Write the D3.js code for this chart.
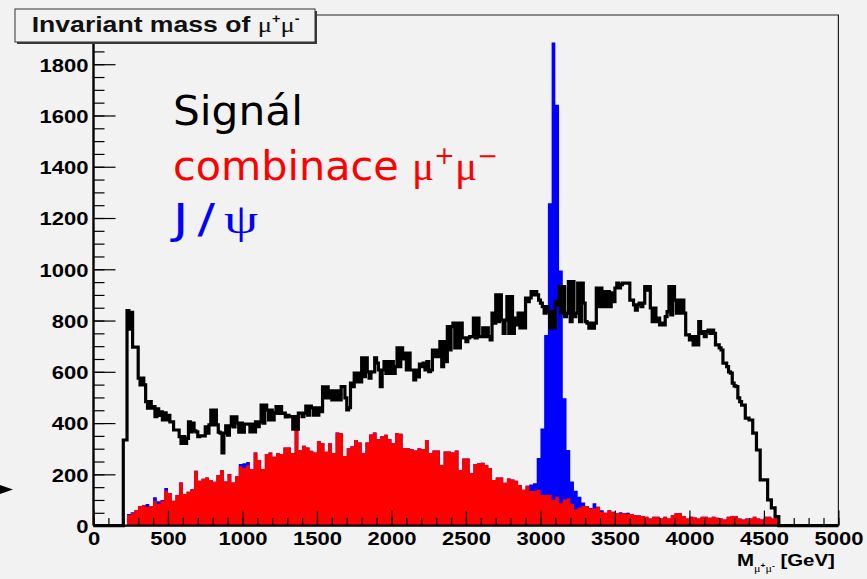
<!DOCTYPE html>
<html>
<head>
<meta charset="utf-8">
<script src="https://cdn.jsdelivr.net/npm/d3@7"></script>
<style>
  html, body { margin: 0; padding: 0; background: #f2f2f2; }
  svg { display: block; }
</style>
</head>
<body>
<svg id="chart" width="867" height="579"></svg>
<script>
// Invariant mass of mu+ mu- pairs: total signal (12.5 GeV bins),
// combinatorial background and J/psi contribution (25 GeV bins).
const massRange = [0, 5000];
const binWidth = 25;
const fineBinWidth = 12.5;

// combinatorial mu+ mu- background, counts per 25 GeV bin
const combinatorial = [
  0, 0, 0, 0, 0, 0, 0, 0, 0, 41, 48, 61, 76, 80, 73, 76, 97, 84, 97, 136,
  127, 97, 119, 168, 123, 132, 142, 214, 175, 183, 188, 178, 171, 197, 217, 172, 201, 168, 193, 232,
  224, 235, 220, 285, 256, 220, 279, 285, 269, 283, 279, 305, 305, 283, 380, 295, 312, 305, 292, 285,
  330, 321, 288, 321, 283, 363, 360, 272, 302, 310, 334, 324, 282, 324, 355, 363, 337, 350, 354, 337,
  321, 361, 358, 302, 302, 298, 293, 302, 298, 334, 282, 293, 293, 236, 289, 289, 285, 293, 217, 262,
  262, 204, 240, 243, 245, 236, 224, 178, 188, 188, 167, 184, 180, 175, 158, 140, 155, 135, 135, 140,
  119, 119, 119, 100, 113, 87, 102, 106, 84, 63, 71, 76, 76, 67, 67, 74, 54, 50, 60, 54,
  48, 48, 48, 45, 45, 41, 37, 37, 35, 28, 35, 35, 28, 35, 28, 41, 48, 48, 37, 28,
  35, 32, 28, 35, 35, 31, 35, 31, 28, 24, 35, 37, 37, 28, 24, 28, 28, 35, 28, 24,
  35, 35, 28, 32, 0, 0, 0, 0, 0, 0, 0, 0, 0, 0, 0, 0, 0, 0, 0, 0
];

// J/psi contribution, stacked on top of the combinatorial background
const jpsi = [
  0, 0, 0, 0, 0, 0, 0, 0, 0, 4, 4, 0, 0, 0, 11, 0, 14, 11, 3, 11,
  0, 0, 0, 0, 0, 0, 0, 0, 0, 0, 0, 0, 0, 0, 0, 0, 0, 0, 0, 8,
  19, 13, 0, 0, 0, 0, 0, 0, 0, 0, 0, 0, 0, 0, 0, 0, 0, 0, 0, 0,
  0, 0, 0, 0, 0, 0, 0, 0, 0, 0, 0, 0, 0, 0, 0, 0, 0, 0, 0, 0,
  0, 0, 0, 0, 0, 0, 0, 0, 0, 0, 0, 0, 0, 0, 0, 0, 0, 0, 0, 0,
  0, 0, 0, 0, 0, 0, 0, 0, 0, 0, 0, 0, 0, 0, 0, 0, 0, 25, 30, 124,
  260, 625, 1139, 1785, 1529, 908, 395, 189, 88, 73, 42, 14, 0, 2, 20, 0, 6, 0, 0, 0,
  0, 4, 0, 5, 0, 0, 3, 0, 0, 0, 0, 0, 0, 0, 0, 0, 0, 0, 0, 0,
  0, 0, 0, 0, 0, 0, 0, 0, 0, 0, 0, 0, 0, 0, 0, 0, 0, 0, 0, 0,
  0, 0, 0, 0, 0, 0, 0, 0, 0, 0, 0, 0, 0, 0, 0, 0, 0, 0, 0, 0
];

// total signal, counts per 12.5 GeV bin (400 bins)
const signal = [
  0, 0, 0, 0, 0, 0, 0, 0, 0, 0, 0, 0, 0, 0, 0, 0,
  334, 334, 839,
  766, 832, 696, 696, 696, 575, 549, 575, 549, 484, 458, 484, 458, 464, 425, 455, 430, 444, 412, 440,
  412, 430, 405, 405, 373, 373, 373, 347, 321, 347, 321, 340, 405, 366, 400, 370, 366, 347, 350, 350,
  350, 385, 361, 393, 451, 393, 451, 393, 365, 361, 284, 361, 389, 353, 389, 424, 385, 424, 400, 365,
  400, 365, 396, 396, 396, 366, 396, 366, 405, 386, 405, 470, 400, 470, 451, 412, 451, 412, 440, 464,
  438, 464, 438, 439, 424, 430, 425, 425, 376, 425, 376, 439, 439, 425, 439, 466, 431, 466, 459, 431,
  459, 431, 459, 445, 541, 498, 541, 498, 526, 490, 526, 490, 526, 490, 542, 542, 498, 451, 460, 556,
  542, 595, 561, 595, 561, 654, 581, 654, 600, 575, 600, 600, 654, 634, 607, 542, 607, 640, 594, 640,
  594, 640, 594, 620, 693, 620, 693, 650, 673, 607, 673, 607, 607, 568, 607, 580, 630, 620, 634, 607,
  640, 601, 607, 685, 659, 685, 659, 718, 620, 718, 640, 776, 685, 776, 790, 693, 790, 693, 790, 732,
  732, 718, 732, 737, 737, 810, 732, 810, 737, 737, 771, 737, 771, 737, 724, 829, 790, 900, 796, 900,
  802, 750, 802, 893, 750, 893, 750, 810, 783, 829, 771, 829, 771, 888, 874, 888, 913, 900, 913, 900,
  880, 868, 854, 829, 854, 835, 771, 835, 771, 874, 861, 932, 829, 932, 815, 829, 952, 796, 952, 815,
  829, 946, 796, 946, 868, 796, 790, 770, 790, 770, 790, 927, 854, 927, 854, 913, 854, 913, 854, 908,
  874, 927, 946, 927, 940, 946, 946, 946, 946, 880, 880, 861, 841, 861, 868, 854, 868, 932, 919, 932,
  849, 796, 849, 796, 810, 783, 790, 783, 815, 835, 932, 822, 932, 880, 829, 880, 829, 880, 829, 744,
  744, 724, 737, 705, 737, 705, 796, 750, 757, 737, 757, 763, 750, 763, 750, 705, 705, 693, 685, 634,
  634, 620, 600, 595, 556, 545, 542, 498, 484, 470, 470, 419, 419, 412, 412, 361, 361, 295, 295, 178,
  178, 178, 178, 100, 100, 69, 69, 35, 35,
  0, 0, 0, 0, 0, 0, 0, 0, 0, 0, 0, 0, 0, 0, 0, 0,
  0, 0, 0, 0, 0, 0, 0, 0, 0, 0, 0, 0, 0, 0, 0, 0
];

const yMax = 1992;
const xTickValues = [0, 500, 1000, 1500, 2000, 2500, 3000, 3500, 4000, 4500, 5000];
const xMinorStep = 100;
const yTickValues = [0, 200, 400, 600, 800, 1000, 1200, 1400, 1600, 1800];
const yMinorStep = 50;

const titleText = "Invariant mass of ";
const legendEntries = [
  { text: "Signál", color: "#000000", spacing: 0 },
  { text: "combinace ", color: "#ff0000", particle: true, spacing: 0 },
  { text: "J/", color: "#0000ff", psi: true, spacing: 7 }
];

// ---------------------------------------------------------------------------
const W = 867, H = 579;
const frame = { left: 93.5, right: 838.4, top: 15, bottom: 525.6 };
const stretch = 1.19;               // horizontal stretch applied to all text
const boldFont = "'Liberation Sans', Arial, Helvetica, sans-serif";
const serifFont = "'Liberation Serif', 'DejaVu Serif', serif";

const svg = d3.select("#chart");
svg.append("rect").attr("width", W).attr("height", H).attr("fill", "#f2f2f2");

const x = d3.scaleLinear().domain(massRange).range([frame.left, frame.right]);
const y = d3.scaleLinear().domain([0, yMax]).range([frame.bottom, frame.top]);

function stepPoints(values, width) {
  const pts = values.map((v, i) => ({ e: i * width, v }));
  pts.push({ e: values.length * width, v: values[values.length - 1] });
  return pts;
}

const area = d3.area()
  .curve(d3.curveStepAfter)
  .x(d => x(d.e))
  .y0(y(0))
  .y1(d => y(d.v));

const plot = svg.append("g");

// J/psi stacked on the background (drawn first, background covers the lower part)
const totalBg = combinatorial.map((v, i) => v + jpsi[i]);
plot.append("path")
  .datum(stepPoints(totalBg, binWidth))
  .attr("d", area)
  .attr("fill", "#0000ff");

plot.append("path")
  .datum(stepPoints(combinatorial, binWidth))
  .attr("d", area)
  .attr("fill", "#ff0000");

// total signal as a thick step outline
const line = d3.line()
  .curve(d3.curveStepAfter)
  .x(d => x(d.e))
  .y(d => y(d.v));
plot.append("path")
  .datum(stepPoints(signal, fineBinWidth))
  .attr("d", line)
  .attr("fill", "none")
  .attr("stroke", "#000")
  .attr("stroke-width", 3.2)
  .attr("stroke-linejoin", "miter");

// frame (top and right)
svg.append("path")
  .attr("d", `M${frame.left},${frame.top}H${frame.right}V${frame.bottom}`)
  .attr("fill", "none")
  .attr("stroke", "#222")
  .attr("stroke-width", 1.2);

// x axis
const xMinor = d3.range(massRange[0], massRange[1] + 1, xMinorStep);
const gxMinor = svg.append("g").attr("transform", `translate(0,${frame.bottom})`)
  .call(d3.axisBottom(x).tickValues(xMinor).tickSize(-7.5).tickFormat(""));
gxMinor.select(".domain").remove();
const gx = svg.append("g").attr("transform", `translate(0,${frame.bottom})`)
  .call(d3.axisBottom(x).tickValues(xTickValues).tickSize(-15).tickFormat(d3.format("d")));
gx.select(".domain").attr("stroke-width", 2.4).attr("d", `M${frame.left},0H${frame.right}`);
[gx, gxMinor].forEach(g => g.selectAll(".tick line").attr("stroke", "#000").attr("stroke-width", 1.2));
gx.selectAll(".tick text")
  .attr("y", 0).attr("dy", null)
  .attr("fill", "#000")
  .attr("font-family", boldFont)
  .attr("font-weight", "bold")
  .attr("font-size", 18.5)
  .attr("transform", `translate(0,19.6) scale(${stretch},1)`);

// y axis
const yMinor = d3.range(0, yMax, yMinorStep);
const gyMinor = svg.append("g").attr("transform", `translate(${frame.left},0)`)
  .call(d3.axisLeft(y).tickValues(yMinor).tickSize(-11).tickFormat(""));
gyMinor.select(".domain").remove();
const gy = svg.append("g").attr("transform", `translate(${frame.left},0)`)
  .call(d3.axisLeft(y).tickValues(yTickValues).tickSize(-22).tickFormat(d3.format("d")));
gy.select(".domain").attr("stroke-width", 2.4).attr("d", `M0,${frame.top}V${frame.bottom}`);
[gy, gyMinor].forEach(g => g.selectAll(".tick line").attr("stroke", "#000").attr("stroke-width", 1.2));
gy.selectAll(".tick text")
  .attr("x", 0).attr("dy", null)
  .attr("fill", "#000")
  .attr("font-family", boldFont)
  .attr("font-weight", "bold")
  .attr("font-size", 18.5)
  .attr("transform", `translate(-5,6.8) scale(${stretch},1)`);

// helper: stretch a text element to a given width, placed at (x0, baseline)
function fitText(t, x0, baseline, width) {
  const w = t.node().getBBox().width;
  t.attr("transform", `translate(${x0},${baseline}) scale(${width / w},1)`);
}

// x axis title: M with a mu+ mu- subscript, then the unit
const xTitle = svg.append("text")
  .attr("font-family", boldFont).attr("font-weight", "bold").attr("font-size", 17)
  .attr("fill", "#000");
xTitle.append("tspan").text("M");
xTitle.append("tspan").attr("font-family", serifFont).attr("font-weight", "normal")
  .attr("font-size", 10).attr("dy", 6).text("μ");
xTitle.append("tspan").attr("font-size", 7).attr("dy", -4).text("+");
xTitle.append("tspan").attr("font-family", serifFont).attr("font-weight", "normal")
  .attr("font-size", 10).attr("dy", 4).text("μ");
xTitle.append("tspan").attr("font-size", 7).attr("dy", -4).text("-");
xTitle.append("tspan").attr("dy", -2).text(" [GeV]");
fitText(xTitle, 737, 566, 98);

// title box with shadow
const box = { x: 15, y: 9, w: 300, h: 33 };
svg.append("rect")
  .attr("x", box.x + 2).attr("y", box.y + 2).attr("width", box.w).attr("height", box.h)
  .attr("fill", "#3a3a3a");
svg.append("rect")
  .attr("x", box.x).attr("y", box.y).attr("width", box.w).attr("height", box.h)
  .attr("fill", "#f2f2f2").attr("stroke", "#333").attr("stroke-width", 1);
const title = svg.append("text")
  .attr("font-family", boldFont).attr("font-weight", "bold").attr("font-size", 22)
  .attr("fill", "#111");
title.append("tspan").text(titleText);
title.append("tspan").attr("font-family", serifFont).attr("font-weight", "normal")
  .attr("font-size", 22).text("μ");
title.append("tspan").attr("font-size", 12).attr("dy", -9).text("+");
title.append("tspan").attr("font-family", serifFont).attr("font-weight", "normal")
  .attr("font-size", 22).attr("dy", 9).text("μ");
title.append("tspan").attr("font-size", 12).attr("dy", -9).text("-");
fitText(title, 31.7, 31.7, 268);

// legend text
const legendFont = "'DejaVu Sans', 'Noto Sans', sans-serif";
const legendLayout = [
  { baseline: 125, width: 130 },
  { baseline: 180, width: 325 },
  { baseline: 233, width: 89 }
];
legendEntries.forEach((entry, i) => {
  const t = svg.append("text")
    .attr("font-family", legendFont).attr("font-size", 40)
    .attr("fill", entry.color);
  t.append("tspan").attr("letter-spacing", entry.spacing).text(entry.text);
  if (entry.particle) {
    t.append("tspan").attr("font-family", serifFont).attr("font-size", 40).text("μ");
    t.append("tspan").attr("font-size", 24).attr("dy", -16).text("+");
    t.append("tspan").attr("font-family", serifFont).attr("font-size", 40).attr("dy", 16).text("μ");
    t.append("tspan").attr("font-size", 24).attr("dy", -16).text("−");
  }
  if (entry.psi) {
    t.append("tspan").attr("font-family", serifFont).attr("font-size", 42).text("ψ");
  }
  fitText(t, 173, legendLayout[i].baseline, legendLayout[i].width);
});

// pointer at the left edge
svg.append("path")
  .attr("d", "M0,485L13,489.5L0,494Z")
  .attr("fill", "#000");
</script>
</body>
</html>
